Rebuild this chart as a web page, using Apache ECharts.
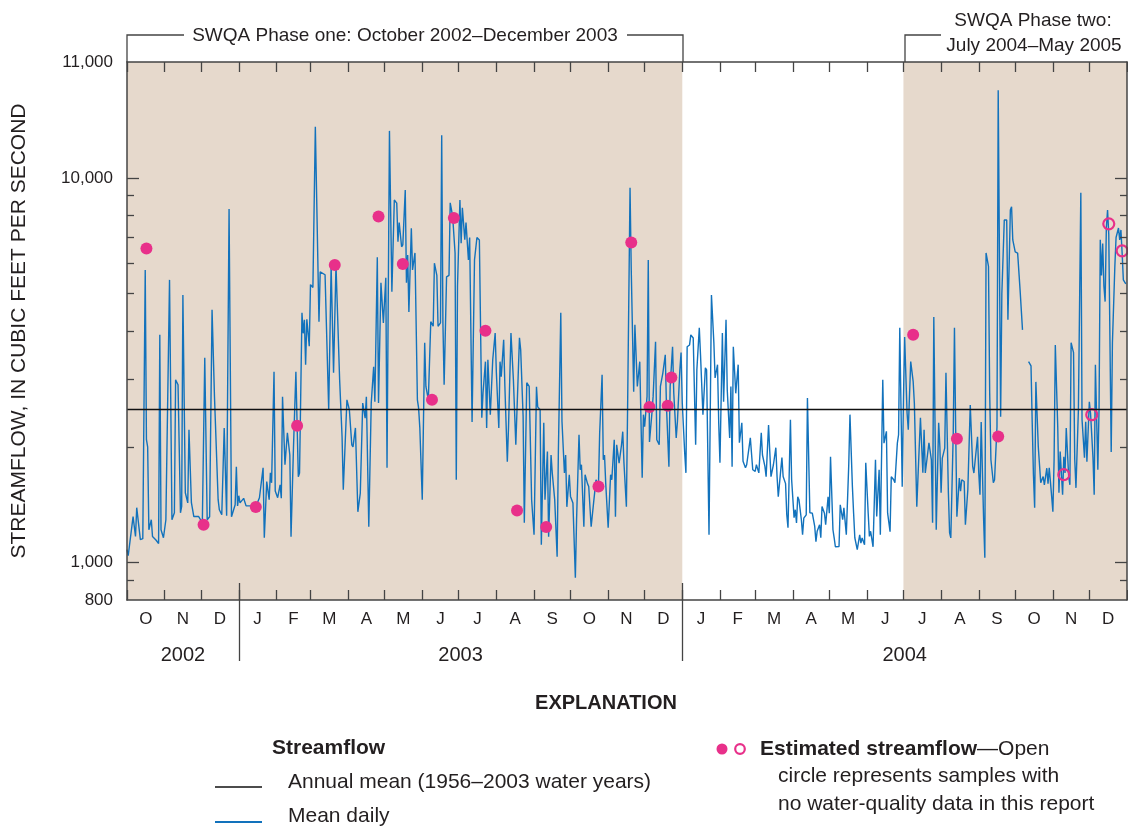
<!DOCTYPE html>
<html style="height: 100%">
<head>
    <meta charset="UTF-8">
    <title>Streamflow</title>
</head>
<body style="height: 100%; margin: 0; background: #fff">
<div id="container" style="width: 1128px; height: 827px"></div>
<script src="https://cdn.jsdelivr.net/npm/echarts@6/dist/echarts.min.js"></script>
<script>
    // mean daily streamflow: [days since 1 Oct 2002, cubic feet per second], null = no record
    var meanDaily = [
        [0,1081],[1,1043],[5,1318],[7,1170],[8,1390],[11,1148],[13,1155],[15,5765],[16,2087],[17,2000],
        [18,1218],[20,1293],[21,1170],[24,1144],[26,1121],[27,3910],[28,1218],[30,1161],[32,1293],[33,1280],
        [35,5431],[37,1293],[39,1348],[40,2987],[42,2900],[44,1348],[45,1400],[46,4960],[48,1520],[50,1430],
        [51,2215],[53,1432],[55,1318],[59,1318],[62,1270],[64,3410],[66,1293],[68,1316],[70,4539],[72,2700],
        [75,1458],[76,1373],[78,1332],[80,2240],[82,1324],[84,8300],[86,1316],[89,1414],[90,1775],[91,1405],
        [92,1493],[93,1430],[96,1470],[98,1405],[101,1405],[104,1400],[106,1397],[109,1475],[112,1765],[113,1161],
        [115,1625],[117,1458],[118,1712],[119,1613],[121,3135],[122,1535],[124,1475],[126,1594],[127,1470],[128,2700],
        [130,1797],[132,2175],[134,1905],[135,1168],[137,1985],[139,3135],[141,1673],[142,1710],[144,4460],[145,3945],
        [146,4276],[147,3270],[148,4290],[150,3650],[151,5280],[153,5190],[155,13570],[158,4230],[159,5700],[163,5600],
        [164,5580],[166,2497],[168,5880],[170,3115],[172,5940],[173,4730],[175,2987],[177,2125],[178,1547],[181,2650],
        [183,2497],[185,2025],[186,2000],[188,2240],[190,1356],[192,1517],[194,2600],[196,2375],[197,2700],[199,1240],
        [201,2597],[203,3230],[204,2620],[206,6220],[207,2600],[209,5340],[211,4200],[213,5500],[214,1765],[216,13245],
        [218,5060],[220,8761],[222,8600],[223,6820],[224,7650],[226,6620],[227,6700],[229,9301],[230,5340],[231,6300],
        [232,4480],[234,7400],[235,5765],[237,6380],[239,2650],[240,2520],[241,2240],[243,1458],[245,3730],[246,2870],
        [248,2650],[250,4230],[252,4115],[253,6000],[255,5580],[256,4115],[258,4200],[259,12900],[260,4200],[261,2900],
        [263,5530],[265,5580],[266,8610],[268,7950],[270,6380],[271,1643],[272,5230],[274,8761],[275,6760],[276,8360],
        [278,6910],[279,7650],[281,6120],[282,7000],[284,2320],[286,6120],[288,7000],[290,6898],[292,2380],[293,2760],
        [294,2730],[295,3330],[296,2240],[297,3367],[299,2425],[301,3367],[303,3950],[304,3110],[306,2240],[307,3330],
        [308,3045],[310,3794],[311,2870],[313,1830],[314,2255],[316,3950],[317,3945],[318,2987],[320,2025],[323,3840],
        [324,3574],[326,2400],[327,1270],[329,2935],[330,2960],[331,2870],[333,1458],[335,1182],[337,2865],[338,2540],
        [340,2497],[341,1114],[343,2310],[344,1458],[346,1945],[347,1168],[349,1905],[350,1710],[352,1458],[354,1036],
        [355,1925],[357,4460],[358,2325],[360,1710],[361,1905],[362,1397],[364,1693],[365,1487],[367,1430],[369,914],
        [370,1293],[372,2150],[373,1744],[374,1797],[376,1240],[377,1693],[379,1605],[380,1578],[382,1240],[384,1430],
        [386,1643],[388,1578],[389,2170],[391,3080],[392,1851],[393,1905],[394,1605],[396,1233],[398,1693],[399,1643],
        [401,2087],[402,1316],[403,2025],[405,1815],[407,2025],[408,2190],[409,1815],[411,1397],[412,2540],[414,9419],
        [415,5765],[417,2780],[418,4150],[420,2870],[422,3330],[424,1663],[425,2425],[426,2255],[428,2705],[429,6120],
        [430,2060],[432,2445],[433,2705],[435,3750],[436,2087],[438,2025],[439,2870],[441,3110],[443,3470],[444,2540],
        [446,1775],[447,2870],[449,3640],[450,2755],[452,2110],[453,2325],[455,3171],[456,3515],[457,2597],[459,1925],
        [460,1712],[461,3640],[463,3680],[464,3910],[466,3835],[468,2025],[469,3171],[471,4080],[472,3470],[474,2425],
        [476,3210],[477,3171],[479,1182],[481,4960],[483,3725],[484,3020],[486,3270],[487,2305],[488,1818],[490,3950],
        [491,2620],[493,4276],[494,2814],[496,2110],[497,2870],[498,1775],[499,3640],[501,2755],[503,3270],[504,2050],
        [506,2310],[507,1835],[509,1765],[510,1797],[512,2000],[513,2110],[515,1744],[517,1727],[518,1797],[520,1712],
        [522,2175],[523,1905],[525,1780],[526,1673],[528,2280],[529,1945],[530,1673],[532,1797],[534,1990],[535,1675],
        [536,1484],[537,1605],[539,1875],[540,1675],[542,1605],[543,1332],[544,1233],[546,2352],[547,1643],[549,1309],
        [550,1373],[551,1268],[552,1484],[553,1458],[555,1293],[556,1182],[557,1305],[559,1332],[560,2680],[562,1348],
        [564,1345],[566,1242],[567,1134],[568,1207],[570,1255],[571,1161],[572,1400],[574,1345],[575,1255],[577,1484],
        [578,1345],[579,1885],[581,1218],[582,1160],[583,1100],[586,1102],[587,1414],[589,1293],[590,1388],[592,1182],
        [594,1797],[595,2425],[597,1578],[598,1345],[599,1161],[601,1081],[603,1182],[604,1124],[605,1160],[607,1114],
        [608,1818],[610,1345],[611,1170],[612,1207],[614,1100],[616,1851],[617,1318],[619,1744],[620,1182],[622,2987],
        [623,2045],[625,2195],[626,1345],[628,1204],[629,1673],[631,1643],[632,1613],[634,2045],[635,2150],[636,4080],
        [638,1575],[639,2650],[640,3860],[642,2450],[643,2215],[645,3330],[647,2960],[648,2597],[650,1397],[651,1675],
        [653,2380],[655,1712],[656,2215],[657,1710],[660,2050],[662,1851],[663,1270],[664,4350],[666,1218],[668,2310],
        [669,2000],[670,1520],[671,1870],[673,1985],[674,3115],[676,1517],[677,1196],[678,1160],[680,2170],[681,4080],
        [682,2215],[683,1316],[685,1660],[686,1535],[687,1643],[689,1625],[690,1255],[692,1547],[693,1547],[694,2570],
        [696,1780],[697,1710],[698,1710],[700,2125],[701,1710],[702,1502],[703,2320],[705,1293],[706,1030],[707,6380],
        [709,5890],[710,2755],[711,1851],[713,1613],[714,1643],[716,2255],[717,16900],[719,2395],[720,5000],[722,7774],
        [724,7774],[725,4276],[727,8253],[728,8409],[729,6898],[731,6420],[733,6375],[734,6440],[735,5116],[737,4028],
        [739,null],
        [742,3330],[744,3245],[745,2305],[746,1693],[747,1390],[748,2950],[750,2000],[751,1985],[752,1613],[754,1675],
        [755,1594],[757,1760],[758,1605],[759,1765],[761,1487],[762,1356],[763,1851],[764,3680],[766,2255],[767,1520],
        [768,1945],[770,1502],[771,1885],[772,1710],[773,2240],[775,1675],[776,1594],[777,3730],[779,3515],[780,1851],
        [781,1565],[783,2497],[785,9141],[786,2352],[788,1875],[789,2325],[790,1830],[792,2620],[793,2445],[795,1875],
        [796,1502],[797,3270],[799,1744],[800,2520],[801,6900],[802,5580],[803,6750],[804,5230],[805,4770],[806,7410],
        [807,8253],[808,7130],[810,1940],[811,3725],[813,5890],[814,7000],[816,7410],[817,6898],[818,7323],[819,6375],
        [820,5431],[822,5300]
    ];
    // estimated streamflow at sampling visits
    var estimatedSampled = [
        [16,6550],[63,1255],[106,1395],[140,2270],[171,5940],[207,7935],[227,5970],[251,2650],[269,7860],[295,4005],
        [321,1367],[345,1238],[388,1578],[415,6790],[430,2537],[445,2557],[448,3030],[647,3910],[683,2100],[717,2128]
    ];
    var estimatedNoData = [[771,1693],[794,2424],[808,7595],[819,6462]];
    var annualMean = 2510;

    // sampling phases, [y, m, d] start and end
    var phases = [[[2002, 10, 1], [2004, 1, 1]], [[2004, 7, 1], [2005, 1, 1]]];
    var monthLetters = ['J', 'F', 'M', 'A', 'M', 'J', 'J', 'A', 'S', 'O', 'N', 'D'];
    var yearLabels = ['2002', '2003', '2004'];
    var yLabelValues = [800, 1000, 10000, 20000];
    var yLabelText = ['800', '1,000', '10,000', '11,000'];
    var yMajorTicks = [1000, 10000];
    var yMinorTicks = [900, 2000, 3000, 4000, 5000, 6000, 7000, 8000, 9000];

    function t(y, m, d) { return new Date(y, m - 1, d).getTime(); }
    function dayToTime(d) { return new Date(2002, 9, 1 + d).getTime(); }
    function nearest(list, v) {
        var best = 0;
        for (var i = 1; i < list.length; i++) {
            if (Math.abs(list[i] - v) < Math.abs(list[best] - v)) best = i;
        }
        return best;
    }

    var xMin = t(2002, 10, 1), xMax = t(2005, 1, 1);
    var monthStarts = [], monthMids = [];
    for (var i = 0; i <= 27; i++) monthStarts.push(t(2002, 10 + i, 1));
    for (var i = 0; i < 27; i++) monthMids.push((monthStarts[i] + monthStarts[i + 1]) / 2);
    var yearStarts = [t(2003, 1, 1), t(2004, 1, 1)];
    var yearEdges = [xMin, yearStarts[0], yearStarts[1], xMax];
    var yearMids = [];
    for (var i = 0; i < 3; i++) yearMids.push((yearEdges[i] + yearEdges[i + 1]) / 2);

    var font = 'Liberation Sans, Arial, sans-serif';
    var ink = '#231f20';
    var axisInk = '#444';
    var blue = '#1272bc';
    var pink = '#e8308a';
    var shade = '#e6d9cc';

    // x axes are plain value axes over timestamps, so the custom tick lists work
    // axes sit above the shaded phase bands (z), otherwise the ticks get covered
    function xAxisOf(pos, opts) {
        var a = {
            type: 'value', min: xMin, max: xMax, position: pos, z: 10,
            splitLine: {show: false},
            axisLine: {show: false, onZero: false, lineStyle: {color: axisInk, width: 1.5}},
            axisTick: {show: true, inside: true, length: 10, lineStyle: {color: axisInk, width: 1.3}},
            axisLabel: {show: false}
        };
        return echarts.util.merge(a, opts, true);
    }
    function yAxisOf(pos, opts) {
        var a = {
            type: 'log', logBase: 10, min: 800, max: 20000, position: pos, z: 10,
            splitLine: {show: false},
            axisLine: {show: false, onZero: false, lineStyle: {color: axisInk, width: 1.5}},
            axisTick: {show: true, inside: true, length: 7, lineStyle: {color: axisInk, width: 1.3}},
            axisLabel: {show: false}
        };
        return echarts.util.merge(a, opts, true);
    }

    var myChart = echarts.init(document.getElementById('container'));
    var option = {
        animation: false,
        backgroundColor: '#fff',
        textStyle: {fontFamily: font},
        grid: {left: 127, right: 1, top: 62, bottom: 227, outerBoundsMode: 'none'},
        xAxis: [
            xAxisOf('bottom', {
                axisLine: {show: true},
                axisTick: {customValues: monthStarts},
                axisLabel: {
                    show: true, customValues: monthMids, margin: 11,
                    fontSize: 17, color: ink, fontFamily: font,
                    formatter: function (v) { return monthLetters[new Date(v).getMonth()]; }
                }
            }),
            xAxisOf('top', {axisLine: {show: true}, axisTick: {customValues: monthStarts}}),
            xAxisOf('bottom', {
                axisTick: {customValues: yearStarts, inside: false, length: 61},
                axisLabel: {
                    show: true, customValues: yearMids, margin: 45,
                    fontSize: 20, color: ink, fontFamily: font,
                    formatter: function (v) { return yearLabels[nearest(yearMids, v)]; }
                }
            }),
            xAxisOf('bottom', {axisTick: {customValues: yearStarts, length: 17}})
        ],
        yAxis: [
            yAxisOf('left', {
                axisLine: {show: true},
                axisTick: {customValues: yMajorTicks, length: 12},
                axisLabel: {
                    show: true, customValues: yLabelValues, margin: 14,
                    fontSize: 17, color: ink, fontFamily: font,
                    formatter: function (v) { return yLabelText[nearest(yLabelValues, v)]; }
                },
                name: 'STREAMFLOW, IN CUBIC FEET PER SECOND',
                nameLocation: 'middle', nameGap: 97,
                nameTextStyle: {fontSize: 21, color: ink, fontFamily: font}
            }),
            yAxisOf('left', {axisTick: {customValues: yMinorTicks}}),
            yAxisOf('right', {axisLine: {show: true}, axisTick: {customValues: yMajorTicks, length: 12}}),
            yAxisOf('right', {axisTick: {customValues: yMinorTicks}})
        ],
        series: [
            {
                name: 'Mean daily',
                type: 'line',
                data: meanDaily.map(function (p) { return [dayToTime(p[0]), p[1] == null ? '-' : p[1]]; }),
                showSymbol: false,
                symbol: 'none',
                connectNulls: false,
                lineStyle: {color: blue, width: 1.4},
                z: 2,
                markArea: {
                    silent: true,
                    itemStyle: {color: shade},
                    data: phases.map(function (p) {
                        return [{xAxis: t(p[0][0], p[0][1], p[0][2])}, {xAxis: t(p[1][0], p[1][1], p[1][2])}];
                    })
                },
                markLine: {
                    silent: true,
                    symbol: ['none', 'none'],
                    label: {show: false},
                    lineStyle: {color: '#111', width: 1.3, type: 'solid'},
                    data: [{yAxis: annualMean}]
                }
            },
            {
                name: 'Estimated',
                type: 'scatter',
                data: estimatedSampled.map(function (p) { return [dayToTime(p[0]), p[1]]; }),
                symbol: 'circle',
                symbolSize: 12,
                itemStyle: {color: pink, opacity: 1},
                z: 4
            },
            {
                name: 'Estimated, no data',
                type: 'scatter',
                data: estimatedNoData.map(function (p) { return [dayToTime(p[0]), p[1]]; }),
                symbol: 'circle',
                symbolSize: 11,
                itemStyle: {color: 'rgba(0,0,0,0)', borderColor: pink, borderWidth: 2.2, opacity: 1},
                z: 4
            }
        ],
        graphic: [
            {type: 'polyline', shape: {points: [[127, 62], [127, 35], [184, 35]]}, style: {stroke: axisInk, lineWidth: 1.3, fill: 'none'}},
            {type: 'polyline', shape: {points: [[627, 35], [683, 35], [683, 62]]}, style: {stroke: axisInk, lineWidth: 1.3, fill: 'none'}},
            {type: 'text', x: 405, y: 36, style: {text: 'SWQA Phase one: October 2002\u2013December 2003', fontSize: 19, fontFamily: font, fill: ink, align: 'center', verticalAlign: 'middle'}},
            {type: 'polyline', shape: {points: [[905, 62], [905, 35], [941, 35]]}, style: {stroke: axisInk, lineWidth: 1.3, fill: 'none'}},
            {type: 'text', x: 1033, y: 21, style: {text: 'SWQA Phase two:', fontSize: 19, fontFamily: font, fill: ink, align: 'center', verticalAlign: 'middle'}},
            {type: 'text', x: 1034, y: 46, style: {text: 'July 2004\u2013May 2005', fontSize: 19, fontFamily: font, fill: ink, align: 'center', verticalAlign: 'middle'}},

            {type: 'text', x: 606, y: 703, style: {text: 'EXPLANATION', fontSize: 20, fontWeight: 'bold', fontFamily: font, fill: ink, align: 'center', verticalAlign: 'middle'}},
            {type: 'text', x: 272, y: 748, style: {text: 'Streamflow', fontSize: 21, fontWeight: 'bold', fontFamily: font, fill: ink, align: 'left', verticalAlign: 'middle'}},
            {type: 'line', shape: {x1: 215, y1: 787, x2: 262, y2: 787}, style: {stroke: '#111', lineWidth: 1.5}},
            {type: 'text', x: 288, y: 782, style: {text: 'Annual mean (1956\u20132003 water years)', fontSize: 21, fontFamily: font, fill: ink, align: 'left', verticalAlign: 'middle'}},
            {type: 'line', shape: {x1: 215, y1: 822, x2: 262, y2: 822}, style: {stroke: blue, lineWidth: 2}},
            {type: 'text', x: 288, y: 816, style: {text: 'Mean daily', fontSize: 21, fontFamily: font, fill: ink, align: 'left', verticalAlign: 'middle'}},
            {type: 'circle', shape: {cx: 722, cy: 749, r: 5.5}, style: {fill: pink}},
            {type: 'circle', shape: {cx: 740, cy: 749, r: 4.8}, style: {fill: 'none', stroke: pink, lineWidth: 2.2}},
            {type: 'text', x: 760, y: 749, style: {
                text: '{b|Estimated streamflow}\u2014Open', fontSize: 21, fontFamily: font, fill: ink,
                align: 'left', verticalAlign: 'middle',
                rich: {b: {fontSize: 21, fontWeight: 'bold', fontFamily: font, fill: ink}}
            }},
            {type: 'text', x: 778, y: 776, style: {text: 'circle represents samples with', fontSize: 21, fontFamily: font, fill: ink, align: 'left', verticalAlign: 'middle'}},
            {type: 'text', x: 778, y: 804, style: {text: 'no water-quality data in this report', fontSize: 21, fontFamily: font, fill: ink, align: 'left', verticalAlign: 'middle'}}
        ]
    };
    myChart.setOption(option);
</script>
</body>
</html>
